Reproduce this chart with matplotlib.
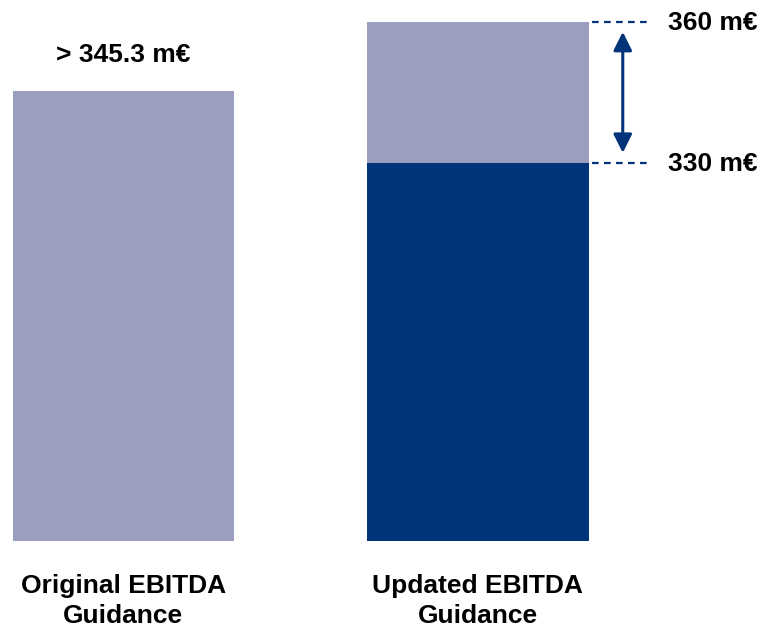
#!/usr/bin/env python3
"""EBITDA guidance: original vs updated range."""

import matplotlib

matplotlib.use("Agg")
import matplotlib.pyplot as plt

plt.rcParams["font.family"] = ["Liberation Sans", "DejaVu Sans"]

CATEGORIES = ["Original EBITDA\nGuidance", "Updated EBITDA\nGuidance"]
ORIGINAL_VALUE = 345.3
UPDATED_LOW = 330.0
UPDATED_HIGH = 360.0
AXIS_FLOOR = 249.3  # bars start here (truncated axis)

LIGHT = "#9A9FC1"
DARK = "#02347A"


def main() -> None:
    fig = plt.figure(figsize=(7.61, 6.26), dpi=100)
    ax = fig.add_axes([0, 0, 1, 1])
    ax.set_xlim(-0.348, 1.799)
    ax.set_ylim(231.2, 364.7)
    ax.axis("off")

    width = 0.625
    # original guidance
    ax.bar(0, ORIGINAL_VALUE - AXIS_FLOOR, bottom=AXIS_FLOOR, width=width,
           color=LIGHT, lw=0)
    # updated guidance: firm floor + range on top
    ax.bar(1, UPDATED_LOW - AXIS_FLOOR, bottom=AXIS_FLOOR, width=width,
           color=DARK, lw=0)
    ax.bar(1, UPDATED_HIGH - UPDATED_LOW, bottom=UPDATED_LOW, width=width,
           color=LIGHT, lw=0)

    fs = 19
    ax.text(0, 351.4, f"> {ORIGINAL_VALUE:.1f} m€", ha="center", va="baseline",
            fontsize=fs, fontweight="bold")

    x0, x1 = 1.322, 1.491
    for v in (UPDATED_HIGH, UPDATED_LOW):
        ax.plot([x0, x1], [v, v], color=DARK, lw=1.6, ls=(0, (3, 2.4)))
        ax.text(1.536, v - 1.7, f"{v:.0f} m€", ha="left", va="baseline",
                fontsize=fs, fontweight="bold")

    ax.annotate("", xy=(1.409, UPDATED_HIGH - 2.1), xytext=(1.409, UPDATED_LOW + 2.1),
                arrowprops=dict(arrowstyle="<|-|>", mutation_scale=28, lw=2.2,
                                color=DARK, shrinkA=0, shrinkB=0))

    # multi-line baseline aligns the last line
    for i, label in enumerate(CATEGORIES):
        ax.text(i, 231.9, label, ha="center", va="baseline", fontsize=fs,
                fontweight="bold", linespacing=1.28)

    fig.savefig("out.png", dpi=100)


if __name__ == "__main__":
    main()
